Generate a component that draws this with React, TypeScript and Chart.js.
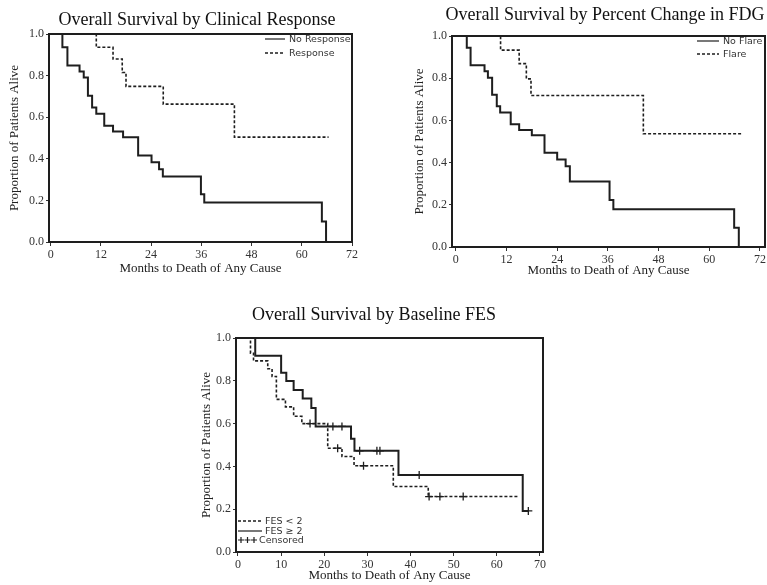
import React, { useEffect, useRef } from 'react';
import { Chart, registerables } from 'chart.js';

Chart.register(...registerables);

// ---------- Data ----------
// Panel 1: Overall Survival by Clinical Response
const noResponseTimes = [0, 2.8, 4, 6.9, 7.9, 8.9, 9.9, 10.9, 12.8, 14.9, 17.3, 20.9, 24.1, 25.9, 26.8, 35.9, 36.7, 64.8, 65.8];
const noResponseSurv = [1.0, 0.936, 0.849, 0.82, 0.791, 0.703, 0.647, 0.616, 0.559, 0.531, 0.504, 0.416, 0.384, 0.35, 0.315, 0.23, 0.19, 0.098, 0.0];
const responseTimes = [0, 10.9, 14.9, 17.1, 18, 26.9, 43.9, 66.4];
const responseSurv = [1.0, 0.936, 0.88, 0.815, 0.748, 0.663, 0.504, 0.504];

// Panel 2: Overall Survival by Percent Change in FDG
const noFlareTimes = [0, 2.6, 3.5, 6.8, 7.6, 8.6, 9.7, 10.5, 13, 15, 18, 21, 24, 26, 27, 36.4, 37.3, 65.9, 67];
const noFlareSurv = [1.0, 0.944, 0.861, 0.833, 0.802, 0.722, 0.667, 0.638, 0.582, 0.555, 0.53, 0.447, 0.415, 0.383, 0.311, 0.223, 0.179, 0.091, 0.0];
const flareTimes = [0, 10.6, 15, 16.7, 17.8, 44.4, 67.6];
const flareSurv = [1.0, 0.933, 0.869, 0.797, 0.718, 0.537, 0.537];

// Panel 3: Overall Survival by Baseline FES
const fesLowTimes = [0, 2.9, 3.6, 6.9, 7.9, 8.9, 11, 12.9, 14.8, 20.8, 24.1, 26.9, 36, 44.1, 65];
const fesLowSurv = [1.0, 0.929, 0.893, 0.856, 0.82, 0.713, 0.678, 0.634, 0.6, 0.485, 0.446, 0.403, 0.306, 0.259, 0.259];
const fesHighTimes = [0, 4, 10, 11.2, 12.9, 15, 17, 18, 26.2, 27, 37.2, 66, 67.3];
const fesHighSurv = [1.0, 0.917, 0.838, 0.799, 0.757, 0.717, 0.673, 0.587, 0.529, 0.473, 0.36, 0.192, 0.192];
const fesLowCensorTimes = [16.7, 23.1, 29.1, 44.3, 46.8, 52.2];
const fesLowCensorSurv = [0.6, 0.485, 0.403, 0.259, 0.259, 0.259];
const fesHighCensorTimes = [22, 24.1, 28.2, 32.2, 32.9, 42, 67.3];
const fesHighCensorSurv = [0.587, 0.587, 0.473, 0.473, 0.473, 0.36, 0.192];

// Tick labels
const xTicksMonths12 = [0, 12, 24, 36, 48, 60, 72];
const xTicksMonths10 = [0, 10, 20, 30, 40, 50, 60, 70];
const yTicksProportion = [0, 0.2, 0.4, 0.6, 0.8, 1.0];

// Text
const titles = [
  'Overall Survival by Clinical Response',
  'Overall Survival by Percent Change in FDG',
  'Overall Survival by Baseline FES',
];
const xAxisTitle = 'Months to Death of Any Cause';
const yAxisTitle = 'Proportion of Patients Alive';

// ---------- Styles ----------
const SERIF = '"Liberation Serif", "Times New Roman", serif';
const SANS = '"DejaVu Sans", sans-serif';
const INK = '#1e1e1e';
const TICK_INK = '#333333';

const toPoints = (xs: number[], ys: number[]) => xs.map((x, i) => ({ x, y: ys[i] }));

const solidLine = (label: string, xs: number[], ys: number[]) => ({
  label,
  data: toPoints(xs, ys),
  borderColor: INK,
  borderWidth: 2,
  pointRadius: 0,
  stepped: 'before' as const,
  fill: false,
});
const dashedLine = (label: string, xs: number[], ys: number[]) => ({
  label,
  data: toPoints(xs, ys),
  borderColor: INK,
  borderWidth: 1.6,
  borderDash: [3, 2],
  pointRadius: 0,
  stepped: 'before' as const,
  fill: false,
});
const censorMarks = (label: string, xs: number[], ys: number[]) => ({
  label,
  data: toPoints(xs, ys),
  showLine: false,
  borderColor: INK,
  backgroundColor: INK,
  pointStyle: 'cross' as const,
  pointRadius: 4,
  pointBorderWidth: 1.3,
  borderWidth: 1.3,
});

// Decoration plugin: titles, legend, plot box
const decorPlugin = {
  id: 'kmDecor',
  afterDraw(chart: any, _args: any, opts: any) {
    const ctx = chart.ctx as CanvasRenderingContext2D;
    const a = chart.chartArea;
    ctx.save();
    // box
    ctx.strokeStyle = INK;
    ctx.lineWidth = 2;
    ctx.setLineDash([]);
    ctx.strokeRect(a.left, a.top, a.right - a.left, a.bottom - a.top);
    // title
    ctx.fillStyle = '#111';
    ctx.font = `18px ${SERIF}`;
    ctx.textAlign = 'center';
    ctx.textBaseline = 'middle';
    ctx.fillText(opts.title, opts.titleX, opts.titleY);
    // legend
    ctx.font = `9.5px ${SANS}`;
    ctx.textAlign = 'left';
    for (const it of opts.legend || []) {
      ctx.strokeStyle = INK;
      if (it.kind === 'cross') {
        ctx.lineWidth = 1.2;
        ctx.setLineDash([]);
        for (const cx of it.crosses) {
          ctx.beginPath();
          ctx.moveTo(cx - 3, it.y);
          ctx.lineTo(cx + 3, it.y);
          ctx.moveTo(cx, it.y - 3);
          ctx.lineTo(cx, it.y + 3);
          ctx.stroke();
        }
      } else {
        ctx.lineWidth = it.kind === 'dash' ? 1.5 : 1.2;
        ctx.setLineDash(it.kind === 'dash' ? [3, 2] : []);
        ctx.beginPath();
        ctx.moveTo(it.x1, it.y);
        ctx.lineTo(it.x2, it.y);
        ctx.stroke();
      }
      ctx.setLineDash([]);
      ctx.fillStyle = '#333';
      ctx.fillText(it.text, it.textX, it.y + 0.5);
    }
    ctx.restore();
  },
};

type PanelCfg = {
  left: number; top: number; width: number; height: number;
  area: { left: number; top: number; right: number; bottom: number };
  xMin: number; xMax: number; xTicks: number[];
  datasets: any[];
  title: string; titleX: number; titleY: number;
  yTitlePad: number; xTitlePad: number;
  legend: any[];
};

function KMPanel({ cfg }: { cfg: PanelCfg }) {
  const ref = useRef<HTMLCanvasElement>(null);
  useEffect(() => {
    if (!ref.current) return;
    const chart = new Chart(ref.current, {
      type: 'line',
      data: { datasets: cfg.datasets },
      options: {
        responsive: false,
        animation: false,
        layout: {
          padding: { left: 0, top: cfg.area.top, right: cfg.width - cfg.area.right, bottom: 0 },
        },
        plugins: {
          legend: { display: false },
          tooltip: { enabled: false },
          title: { display: false },
          kmDecor: { title: cfg.title, titleX: cfg.titleX, titleY: cfg.titleY, legend: cfg.legend },
        } as any,
        scales: {
          x: {
            type: 'linear',
            min: cfg.xMin,
            max: cfg.xMax,
            afterBuildTicks: (s: any) => { s.ticks = cfg.xTicks.map((v) => ({ value: v })); },
            afterFit: (s: any) => { s.height = cfg.height - cfg.area.bottom; },
            ticks: {
              color: TICK_INK,
              font: { family: SERIF, size: 12 },
              padding: 2,
              maxRotation: 0,
              autoSkip: false,
              callback: (v: any) => String(v),
            },
            grid: { drawOnChartArea: false, drawTicks: true, tickLength: 4, color: TICK_INK, lineWidth: 1 },
            border: { display: true, color: INK, width: 2 },
            title: {
              display: true,
              text: xAxisTitle,
              color: '#222',
              font: { family: SERIF, size: 13 },
              padding: { top: 0, bottom: cfg.xTitlePad },
            },
          },
          y: {
            type: 'linear',
            min: 0,
            max: 1,
            afterBuildTicks: (s: any) => { s.ticks = yTicksProportion.map((v) => ({ value: v })); },
            afterFit: (s: any) => { s.width = cfg.area.left; },
            ticks: {
              color: TICK_INK,
              font: { family: SERIF, size: 12 },
              padding: 2,
              autoSkip: false,
              callback: (v: any) => Number(v).toFixed(1),
            },
            grid: { drawOnChartArea: false, drawTicks: true, tickLength: 3, color: TICK_INK, lineWidth: 1 },
            border: { display: true, color: INK, width: 2 },
            title: {
              display: true,
              text: yAxisTitle,
              color: '#222',
              font: { family: SERIF, size: 13 },
              padding: { top: cfg.yTitlePad, bottom: 0 },
            },
          },
        },
      } as any,
      plugins: [decorPlugin],
    });
    return () => chart.destroy();
  }, []);
  return (
    <div style={{ position: 'absolute', left: cfg.left, top: cfg.top, width: cfg.width, height: cfg.height }}>
      <canvas ref={ref} width={cfg.width} height={cfg.height} style={{ width: cfg.width, height: cfg.height, display: 'block' }} />
    </div>
  );
}

const panels: PanelCfg[] = [
  {
    left: 0, top: 0, width: 380, height: 282,
    area: { left: 49, top: 34, right: 352, bottom: 242 },
    xMin: -0.4, xMax: 72, xTicks: xTicksMonths12,
    datasets: [
      solidLine('No Response', noResponseTimes, noResponseSurv),
      dashedLine('Response', responseTimes, responseSurv),
    ],
    title: titles[0], titleX: 197, titleY: 20,
    yTitlePad: 7, xTitlePad: 6,
    legend: [
      { kind: 'solid', x1: 265, x2: 285, y: 39, textX: 289, text: 'No Response' },
      { kind: 'dash', x1: 265, x2: 285, y: 53, textX: 289, text: 'Response' },
    ],
  },
  {
    left: 400, top: 0, width: 380, height: 282,
    area: { left: 52, top: 36, right: 365, bottom: 247 },
    xMin: -0.9, xMax: 73.2, xTicks: xTicksMonths12,
    datasets: [
      solidLine('No Flare', noFlareTimes, noFlareSurv),
      dashedLine('Flare', flareTimes, flareSurv),
    ],
    title: titles[1], titleX: 205, titleY: 15,
    yTitlePad: 12, xTitlePad: 4,
    legend: [
      { kind: 'solid', x1: 297, x2: 319, y: 41, textX: 323, text: 'No Flare' },
      { kind: 'dash', x1: 297, x2: 319, y: 54, textX: 323, text: 'Flare' },
    ],
  },
  {
    left: 195, top: 295, width: 360, height: 290,
    area: { left: 41, top: 43, right: 348, bottom: 257 },
    xMin: -0.46, xMax: 70.7, xTicks: xTicksMonths10,
    datasets: [
      dashedLine('FES < 2', fesLowTimes, fesLowSurv),
      solidLine('FES ≥ 2', fesHighTimes, fesHighSurv),
      censorMarks('Censored (FES < 2)', fesLowCensorTimes, fesLowCensorSurv),
      censorMarks('Censored (FES ≥ 2)', fesHighCensorTimes, fesHighCensorSurv),
    ],
    title: titles[2], titleX: 179, titleY: 20,
    yTitlePad: 4, xTitlePad: 2,
    legend: [
      { kind: 'dash', x1: 43, x2: 67, y: 226, textX: 70, text: 'FES < 2' },
      { kind: 'solid', x1: 43, x2: 67, y: 236, textX: 70, text: 'FES ≥ 2' },
      { kind: 'cross', crosses: [46, 52.5, 59], y: 245, textX: 64, text: 'Censored' },
    ],
  },
];

export default function App() {
  return (
    <div style={{ position: 'absolute', left: 0, top: 0, width: 767, height: 585, overflow: 'hidden', background: '#ffffff' }}>
      {panels.map((p, i) => (
        <KMPanel key={i} cfg={p} />
      ))}
    </div>
  );
}
